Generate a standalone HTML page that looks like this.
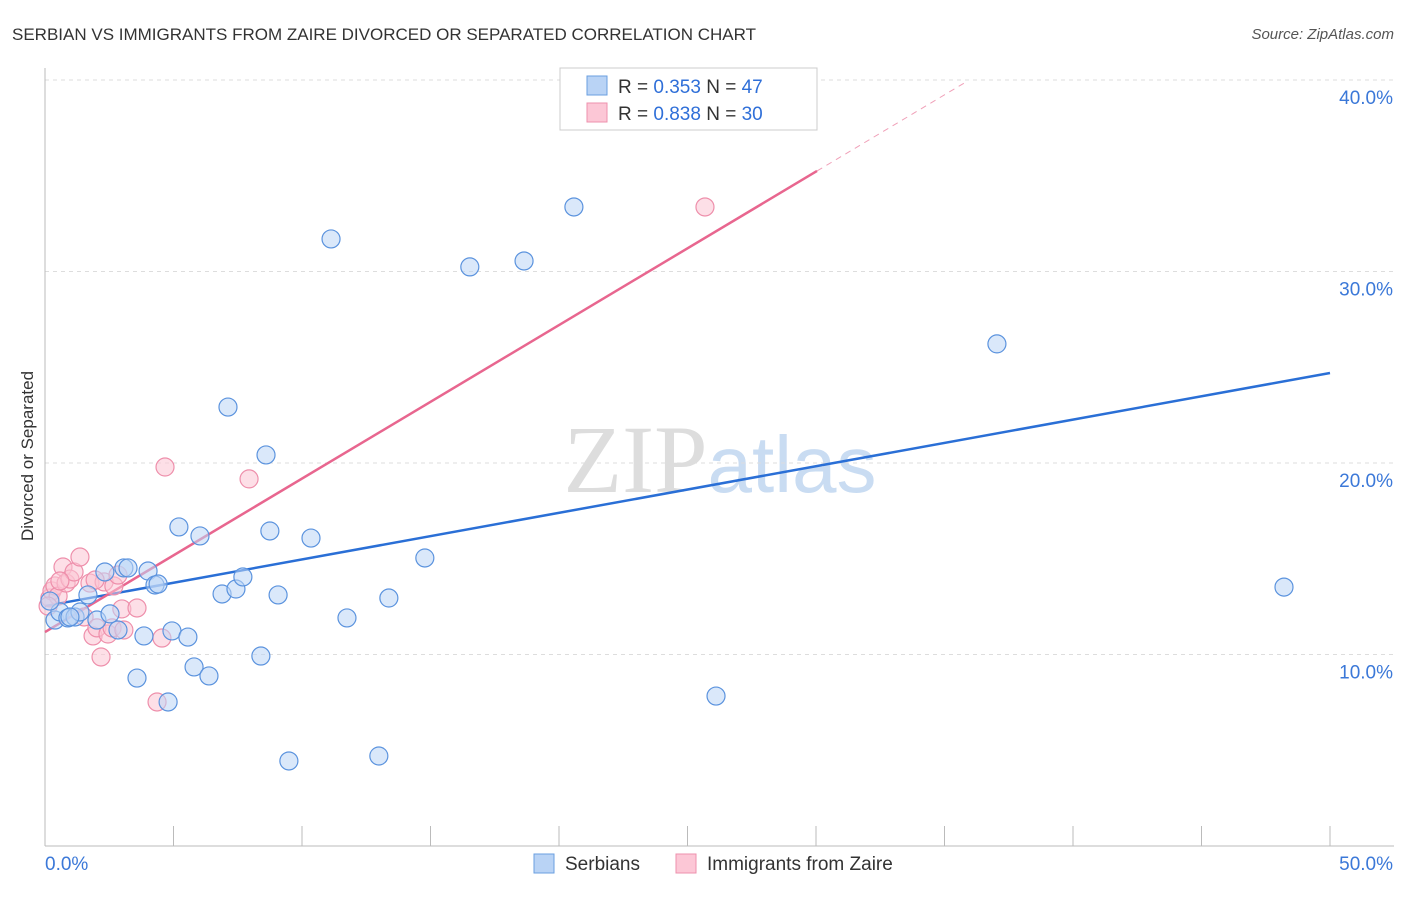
<!DOCTYPE html>
<html><head><meta charset="utf-8"><style>
body{margin:0;background:#fff;font-family:"Liberation Sans",sans-serif}
</style></head><body>
<svg width="1406" height="892" xmlns="http://www.w3.org/2000/svg" font-family="Liberation Sans, sans-serif">
<text x="12" y="40" font-size="17" fill="#333">SERBIAN VS IMMIGRANTS FROM ZAIRE DIVORCED OR SEPARATED CORRELATION CHART</text>
<text x="1394" y="39" font-size="15" fill="#555" text-anchor="end" font-style="italic">Source: ZipAtlas.com</text>
<text x="720" y="492" font-size="96" fill="#ddd" text-anchor="middle" font-family="Liberation Serif, serif">ZIP<tspan fill="#c9dcf2" font-family="Liberation Sans, sans-serif" font-size="80">atlas</tspan></text>
<g id="grid"></g><g id="axes"></g><g id="lines"></g><g id="pts"></g>
<text transform="translate(33,456) rotate(-90)" font-size="17" fill="#333" text-anchor="middle">Divorced or Separated</text>
<g>
<rect x="560" y="68" width="257" height="62" fill="#fff" stroke="#ccc"/>
<rect x="587" y="76" width="20" height="19" fill="#b9d3f5" stroke="#6a9fe0"/>
<rect x="587" y="103" width="20" height="19" fill="#fcc7d6" stroke="#ee90ad"/>
<text x="618" y="93" font-size="19" fill="#333">R = <tspan fill="#2f6fd8">0.353</tspan>   N = <tspan fill="#2f6fd8">47</tspan></text>
<text x="618" y="120" font-size="19" fill="#333">R = <tspan fill="#2f6fd8">0.838</tspan>   N = <tspan fill="#2f6fd8">30</tspan></text>
</g>
<g>
<rect x="534" y="854" width="20" height="19" fill="#b9d3f5" stroke="#6a9fe0"/>
<text x="565" y="870" font-size="19" fill="#333">Serbians</text>
<rect x="676" y="854" width="20" height="19" fill="#fcc7d6" stroke="#ee90ad"/>
<text x="707" y="870" font-size="19" fill="#333">Immigrants from Zaire</text>
</g>
</svg>
<script>
const yTicks=[10,20,30,40];
const yTickLabels=["10.0%","20.0%","30.0%","40.0%"];
const xTicks=[0,5,10,15,20,25,30,35,40,45,50];
const serbX=[0.39,0.58,0.89,1.17,1.36,1.67,2.02,2.33,2.53,2.84,3.07,3.23,3.58,3.85,4.01,4.28,4.40,4.79,4.94,5.21,5.56,5.80,6.03,6.38,6.89,7.12,7.43,7.70,8.40,8.60,8.75,9.07,9.49,10.35,11.13,11.75,12.99,13.38,14.78,16.53,18.64,20.58,26.11,37.04,48.21,0.19,0.97];
const serbY=[11.8,12.22,11.91,11.96,12.22,13.11,11.8,14.31,12.12,11.28,14.52,14.52,8.77,10.97,14.36,13.63,13.68,7.52,11.23,16.66,10.91,9.35,16.19,8.88,13.16,22.92,13.42,14.05,9.92,20.42,16.45,13.11,4.44,16.08,31.7,11.91,4.7,12.95,15.04,30.24,30.55,33.37,7.83,26.22,13.52,12.79,11.96];
const zaiX=[0.19,0.27,0.39,0.51,0.70,0.82,0.97,1.13,1.36,1.52,1.75,1.87,2.02,2.18,2.30,2.45,2.61,2.68,2.84,2.99,3.07,3.58,4.36,4.55,4.67,7.94,25.68,0.12,0.58,1.95];
const zaiY=[12.95,13.32,13.58,13.05,14.57,13.73,13.94,14.31,15.09,11.96,13.73,10.97,11.39,9.87,13.79,11.07,11.39,13.58,14.15,12.38,11.28,12.43,7.52,10.86,19.79,19.17,33.37,12.53,13.84,13.89];
const blueLine=[12.53,0.2434]; // intercept %, slope per %
const pinkLine=[11.17,0.8016];
const pinkSolidEnd=30.04, pinkDashEnd=35.8;
const X=v=>45+v/50*1285, Y=v=>846-v*19.15;
const NS="http://www.w3.org/2000/svg";
function mk(p,t,a){const e=document.createElementNS(NS,t);for(const k in a)e.setAttribute(k,a[k]);document.getElementById(p).appendChild(e);return e;}
yTicks.forEach((t,i)=>{
 const g=mk('grid','line',{x1:45,x2:1394,y1:Y(t),y2:Y(t),stroke:'#ddd','stroke-dasharray':'4,4'});
 
 
 const l=mk('grid','text',{x:1393,y:Y(t)+24,'text-anchor':'end','font-size':19,fill:'#3b78d8'});
 l.textContent=yTickLabels[i];
 
 
});
const ax=mk('axes','line',{x1:45,x2:45,y1:68,y2:846,stroke:'#bbb'});


const bx=mk('axes','line',{x1:45,x2:1394,y1:846,y2:846,stroke:'#bbb'});


xTicks.forEach(t=>{const e=mk('axes','line',{x1:X(t),x2:X(t),y1:826,y2:846,stroke:'#bbb'});
 
 });
[["0.0%",45,'start'],["50.0%",1393,'end']].forEach(d=>{const e=mk('axes','text',{x:d[1],y:870,'text-anchor':d[2],'font-size':19,fill:'#3b78d8'});e.textContent=d[0];
 
 });
function pts(xs,ys,f,s,n){xs.forEach((x,i)=>{const c=mk('pts','circle',{cx:X(x),cy:Y(ys[i]),r:9,fill:f,'fill-opacity':0.55,stroke:s,'stroke-width':1.2});
 
 });}
pts(zaiX,zaiY,'#fbc4d3','#ee8fab','zaire-point');
pts(serbX,serbY,'#bcd5f6','#5b93de','serbian-point');
const bl=mk('lines','line',{x1:X(0),y1:Y(blueLine[0]),x2:X(50),y2:Y(blueLine[0]+blueLine[1]*50),stroke:'#2a6fd6','stroke-width':2.5});


const pl=mk('lines','line',{x1:X(0),y1:Y(pinkLine[0]),x2:X(pinkSolidEnd),y2:Y(pinkLine[0]+pinkLine[1]*pinkSolidEnd),stroke:'#e8668f','stroke-width':2.5});


const pd=mk('lines','line',{x1:X(pinkSolidEnd),y1:Y(pinkLine[0]+pinkLine[1]*pinkSolidEnd),x2:X(pinkDashEnd),y2:Y(pinkLine[0]+pinkLine[1]*pinkDashEnd),stroke:'#f0a0b8','stroke-width':1,'stroke-dasharray':'6,5'});


</script>
</body></html>
